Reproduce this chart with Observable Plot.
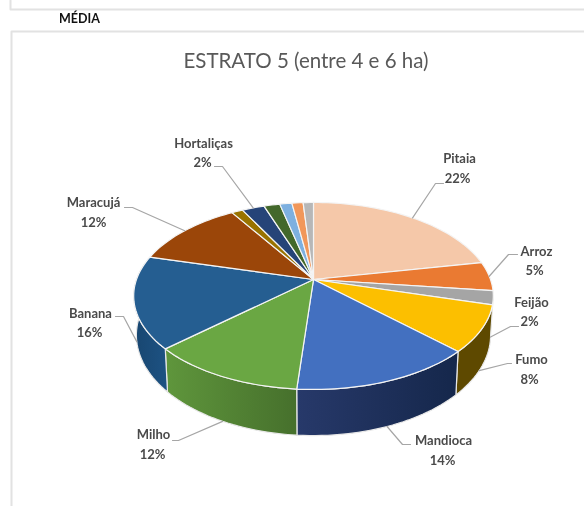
<!DOCTYPE html>
<html><head><meta charset="utf-8">
<script src="https://cdn.jsdelivr.net/npm/d3@7"></script>
<script src="https://cdn.jsdelivr.net/npm/@observablehq/plot@0.6"></script>
<style>html,body{margin:0;padding:0;background:#fff}svg{display:block;filter:blur(.5px)}</style>
</head><body><div id="chart"></div>
<script>
const categories = ["Pitaia","Arroz","Feijão","Fumo","Mandioca","Milho","Banana","Maracujá","Outros 1","Hortaliças","Outros 2","Outros 3","Outros 4","Outros 5"];
const values = [22,5,2.4,8,14,12,16,12,1.2,2.4,1.7,1.3,1.2,1.1];
const percentLabels = ["22%","5%","2%","8%","14%","12%","16%","12%",null,"2%",null,null,null,null];
const topColors = ["#f5c8a9","#ea7a32","#a5a5a5","#fcbf00","#4370c0","#6aa743","#255e91","#9b4609","#997300","#264478","#43682b","#7db0e0","#f1975a","#b7b7b7"];
const sideFills = {Fumo:"#5e4900",Mandioca:"url(#gMandioca)",Milho:"url(#gMilho)",Banana:"url(#gBanana)"};

// layout of the perspective disc (separate from the data)
const cx=313, cy=279, R=177, Q=90.6, P=0.176, DEPTH=38, SHRINK=0.985;
const project=(a,bottom)=>{const u=Math.sin(a),v=-Math.cos(a),w=1-P*v;
  return {x:cx+R*u/w*(bottom?SHRINK:1), y:cy+Q*v/w+(bottom?DEPTH/w:0), v};};
const arcs=d3.pie().sort(null).startAngle(0).endAngle(2*Math.PI)(values);
const sample=(a0,a1)=>{const n=Math.max(2,Math.ceil((a1-a0)/0.03));return d3.range(n+1).map(i=>a0+(a1-a0)*i/n);};
const wedge=a=>{const pts=[{x:cx,y:cy},...sample(a.startAngle,a.endAngle).map(t=>project(t,false)),{x:cx,y:cy}];return pts;};
const side=(a0,a1)=>{const s=sample(a0,a1);const top=s.map(t=>project(t,false));const bot=s.reverse().map(t=>project(t,true));return [...top,...bot,top[0]];};

// label layout: leader elbow, leader end, name centre, percent centre
const labelLayout={
 "Pitaia":[[435,183],[443,183],[459,158],[457,178]],
 "Arroz":[[508,254],[517,254],[536,251],[534,270]],
 "Feijão":[[510,326],[518,326],[531,302],[529,321]],
 "Fumo":[[507,363],[511,363],[531,359],[529,379]],
 "Mandioca":[[402,444],[410,444],[443,440],[442,460]],
 "Milho":[[178,440],[172,440],[153,434],[152,454]],
 "Banana":[[123,316],[115,316],[90,313],[89,332]],
 "Maracujá":[[132,207],[124,207],[93,202],[93,222]],
 "Hortaliças":[[222,166],[214,166],[203,143],[202,162]]
};

const X=d=>d.x, Y=d=>d.y;
const gradients=()=>{
  const defs=d3.create("svg:defs");
  [["gMandioca","#27396a","#15274b"],["gMilho","#5f963c","#46702c"],["gBanana","#1d5283","#184670"]].forEach(([id,a,b])=>{
    const g=defs.append("linearGradient").attr("id",id);
    g.append("stop").attr("offset","0%").attr("stop-color",id==="gBanana"?b:a);
    g.append("stop").attr("offset","100%").attr("stop-color",id==="gBanana"?a:b);
  });
  return defs.node();
};
const labelled=categories.map((c,i)=>({c,i})).filter(d=>percentLabels[d.i]);
const leaders=labelled.map(({c,i})=>{const a=arcs[i],mid=(a.startAngle+a.endAngle)/2,front=-Math.cos(mid)>0.1;
  const s=project(mid,front),[e,f]=labelLayout[c];return [{x:s.x,y:s.y},{x:e[0],y:e[1]},{x:f[0],y:f[1]}];});
const names=labelled.map(({c})=>({t:c,x:labelLayout[c][2][0],y:labelLayout[c][2][1]}));
const pcts=labelled.map(({c,i})=>({t:percentLabels[i],x:labelLayout[c][3][0],y:labelLayout[c][3][1]}));

const frame=(pts)=>Plot.line(pts,{x:X,y:Y,stroke:"#e2e2e2",strokeWidth:2});
const labelFont={fontFamily:"Lato",fontSize:13,fontWeight:700,fill:"#4a4a4a",stroke:"none"};
const plot=Plot.plot({
  width:584,height:506,margin:0,
  x:{domain:[0,584],range:[0,584],axis:null},
  y:{domain:[0,506],range:[0,506],axis:null},
  marks:[
    gradients,
    frame([{x:10,y:0},{x:10,y:9},{x:584,y:9}]),
    frame([{x:11,y:506},{x:11,y:31},{x:584,y:31}]),
    Plot.text(["MÉDIA"],{x:()=>79,y:()=>18,text:d=>d,fontFamily:"Lato",fontSize:12.5,fontWeight:700,fill:"#111"}),
    Plot.text(["ESTRATO 5 (entre 4 e 6 ha)"],{x:()=>305.5,y:()=>61,text:d=>d,fontFamily:"Lato",fontSize:20.5,fill:"#595959"}),
    ...["Fumo","Mandioca","Milho","Banana"].map(c=>{const a=arcs[categories.indexOf(c)];
      const a0=c==="Fumo"?Math.min(a.startAngle,100*Math.PI/180):a.startAngle;
      return Plot.line(side(a0,a.endAngle),{x:X,y:Y,fill:sideFills[c],stroke:"#e8e8e8",strokeWidth:1.2,strokeLinejoin:"round"});}),
    ...arcs.map((a,i)=>Plot.line(wedge(a),{x:X,y:Y,fill:topColors[i],stroke:"#f4f4f4",strokeWidth:1.2,strokeLinejoin:"round"})),
    ...leaders.map(l=>Plot.line(l,{x:X,y:Y,stroke:"#a6a6a6",strokeWidth:1.2})),
    Plot.text(names,{x:X,y:Y,text:d=>d.t,...labelFont}),
    Plot.text(pcts,{x:X,y:Y,text:d=>d.t,...labelFont})
  ]
});
document.getElementById("chart").append(plot);
</script></body></html>
